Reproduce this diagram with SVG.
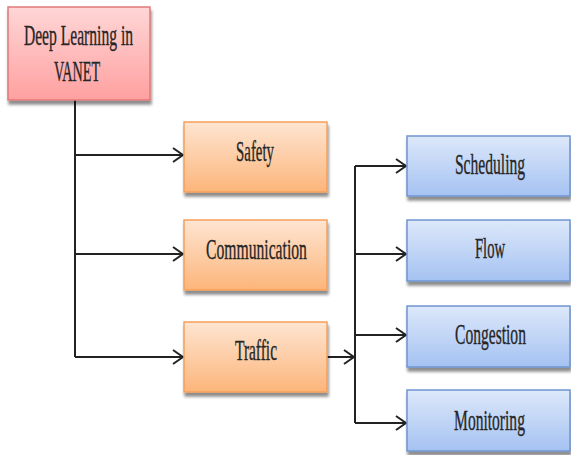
<svg xmlns="http://www.w3.org/2000/svg" width="571" height="455" viewBox="0 0 571 455">
  <defs>
    <linearGradient id="gPink" x1="0" y1="0" x2="0" y2="1">
      <stop offset="0" stop-color="#ffd6d6"/>
      <stop offset="1" stop-color="#ffa0a0"/>
    </linearGradient>
    <linearGradient id="gOrange" x1="0" y1="0" x2="0" y2="1">
      <stop offset="0" stop-color="#fee5d2"/>
      <stop offset="1" stop-color="#fcb57a"/>
    </linearGradient>
    <linearGradient id="gBlue" x1="0" y1="0" x2="0" y2="1">
      <stop offset="0" stop-color="#dde8fa"/>
      <stop offset="1" stop-color="#a5c2f2"/>
    </linearGradient>
    <filter id="shadow" x="-10%" y="-10%" width="130%" height="140%">
      <feGaussianBlur in="SourceAlpha" stdDeviation="1.8"/>
      <feOffset dx="1" dy="3.5" result="b"/>
      <feComponentTransfer><feFuncA type="linear" slope="0.45"/></feComponentTransfer>
      <feMerge><feMergeNode/><feMergeNode in="SourceGraphic"/></feMerge>
    </filter>
    <marker id="arrow" viewBox="0 0 12 16" refX="11" refY="8" markerWidth="12" markerHeight="16" markerUnits="userSpaceOnUse" orient="auto">
      <path d="M1,1 L11,8 L1,15" fill="none" stroke="#222" stroke-width="2"/>
    </marker>
  </defs>
  <style>
    /* labels are set in a condensed serif: drawn at full size, squeezed to 60% width */
    .lbl { font-family: "Liberation Serif", "DejaVu Serif", serif; font-size: 29px; fill: #262626; stroke: #262626; stroke-width: 0.35; text-anchor: middle; }
    .pink { fill: url(#gPink); stroke: #e07a7a; stroke-width: 1.5; filter: url(#shadow); }
    .orange { fill: url(#gOrange); stroke: #f6a05a; stroke-width: 1.5; filter: url(#shadow); }
    .blue { fill: url(#gBlue); stroke: #6f95cf; stroke-width: 1.5; filter: url(#shadow); }
    .wire { fill: none; stroke: #222; stroke-width: 2; }
  </style>
  <rect width="571" height="455" fill="#ffffff"/>

  <!-- connectors -->
  <g id="connectors">
    <path class="wire" d="M75,100 V357"/>
    <path class="wire" d="M75,155 H183" marker-end="url(#arrow)"/>
    <path class="wire" d="M75,254 H183" marker-end="url(#arrow)"/>
    <path class="wire" d="M75,357 H183" stroke-width="2.5" marker-end="url(#arrow)"/>
    <path class="wire" d="M327,357 H354" stroke-width="2.5" marker-end="url(#arrow)"/>
    <path class="wire" d="M355,166 V423"/>
    <path class="wire" d="M355,166 H406" marker-end="url(#arrow)"/>
    <path class="wire" d="M355,254 H406" marker-end="url(#arrow)"/>
    <path class="wire" d="M355,335 H406" marker-end="url(#arrow)"/>
    <path class="wire" d="M355,423 H406" marker-end="url(#arrow)"/>
  </g>

  <!-- root -->
  <g id="root">
    <rect class="pink" x="8" y="7" width="142" height="93"/>
    <text class="lbl" transform="translate(78.5,45) scale(0.6,1)" font-size="27" textLength="182" lengthAdjust="spacingAndGlyphs">Deep Learning in</text>
    <text class="lbl" transform="translate(77,81) scale(0.6,1)" font-size="27" textLength="77" lengthAdjust="spacingAndGlyphs">VANET</text>
  </g>

  <!-- second level -->
  <g id="safety">
    <rect class="orange" x="184" y="122" width="143" height="70"/>
    <text class="lbl" transform="translate(255,161) scale(0.6,1)" textLength="63" lengthAdjust="spacingAndGlyphs">Safety</text>
  </g>
  <g id="communication">
    <rect class="orange" x="184" y="220" width="143" height="70"/>
    <text class="lbl" transform="translate(256.5,259) scale(0.6,1)" textLength="168" lengthAdjust="spacingAndGlyphs">Communication</text>
  </g>
  <g id="traffic">
    <rect class="orange" x="184" y="322" width="143" height="70"/>
    <text class="lbl" transform="translate(256,360) scale(0.6,1)" textLength="70" lengthAdjust="spacingAndGlyphs">Traffic</text>
  </g>

  <!-- third level -->
  <g id="scheduling">
    <rect class="blue" x="407" y="136" width="163" height="60"/>
    <text class="lbl" transform="translate(490,174) scale(0.6,1)" textLength="117" lengthAdjust="spacingAndGlyphs">Scheduling</text>
  </g>
  <g id="flow">
    <rect class="blue" x="407" y="220" width="163" height="61"/>
    <text class="lbl" transform="translate(490,258) scale(0.6,1)" textLength="50" lengthAdjust="spacingAndGlyphs">Flow</text>
  </g>
  <g id="congestion">
    <rect class="blue" x="407" y="306" width="163" height="61"/>
    <text class="lbl" transform="translate(490.5,344) scale(0.6,1)" textLength="118" lengthAdjust="spacingAndGlyphs">Congestion</text>
  </g>
  <g id="monitoring">
    <rect class="blue" x="407" y="390" width="163" height="61"/>
    <text class="lbl" transform="translate(489.5,430) scale(0.6,1)" textLength="118" lengthAdjust="spacingAndGlyphs">Monitoring</text>
  </g>
</svg>
